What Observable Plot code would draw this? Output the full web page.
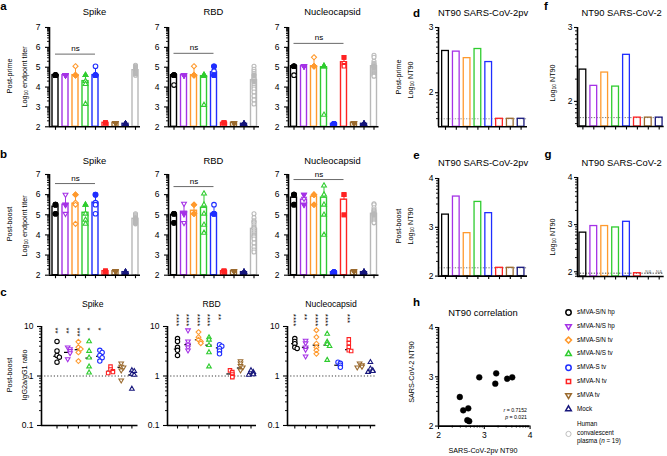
<!DOCTYPE html>
<html>
<head>
<meta charset="utf-8">
<script src="https://cdn.jsdelivr.net/npm/d3@7"></script>
<script src="https://cdn.jsdelivr.net/npm/@observablehq/plot@0.6"></script>
<style>
  html,body{margin:0;padding:0;background:#fff;}
  #fig{position:relative;width:667px;height:456px;overflow:hidden;background:#fff;font-family:"Liberation Sans",Arial,Helvetica,sans-serif;color:#000;}
  #fig svg{overflow:visible;}
  sub{font-size:70%;vertical-align:-0.3em;line-height:0;}
</style>
</head>
<body>
<div id="fig"></div>
<script>
// ================= DATA =================
const groupNames = ["sMVA-S/N hp","sMVA-N/S hp","sMVA-S/N tv","sMVA-N/S tv","sMVA-S tv","sMVA-N tv","sMVA tv","Mock"];
const plasmaName = ["Human","convalescent","plasma (<i>n</i> = 19)"];
const groupColors = ["#000000","#a532e6","#ff9a2e","#2fcc2f","#1f2eff","#ff2222","#9a6a2e","#17177c","#b8b8b8"];

// a: post-prime, Log10 endpoint titer
const primeSpikeBar = [4.6, 4.6, 4.6, 4.3, 4.6, 2.2, 2.2, 2.15, 4.85];
const primeSpikeErr = [null, null, 5.0, 4.6, 5.05, null, null, null, 5.05];
const primeSpikePts = [
  [4.6,4.6,4.6,4.6,4.6],[4.6,4.6,4.6,4.6,4.6],[5.05,4.6,4.6,4.6,4.6],[4.6,4.6,4.3,4.15,3.15],
  [5.05,4.6,4.6,4.6,4.6],[2.2,2.2,2.2,2.2,2.2],[2.2,2.2,2.2,2.2,2.2],[2.15,2.15,2.15,2.15,2.15],
  [5.1,5.05,5.0,5.0,4.95,4.9,4.9,4.85,4.85,4.8,4.8,4.8,4.75,4.75,4.7,4.7,4.7,4.65,4.6]];
const primeRbdBar = [4.6, 4.6, 4.6, 4.55, 4.75, 2.2, 2.2, 2.15, 4.35];
const primeRbdErr = [null, null, 5.0, null, 5.05, null, null, null, 4.65];
const primeRbdPts = [
  [4.6,4.6,4.6,4.6,4.1],[4.6,4.6,4.6,4.6,4.6],[5.05,4.6,4.6,4.6,4.6],[4.6,4.6,4.6,4.55,3.1],
  [5.05,5.05,4.8,4.6,4.6],[2.2,2.2,2.2,2.2,2.2],[2.2,2.2,2.2,2.2,2.2],[2.15,2.15,2.15,2.15,2.15],
  [5.05,4.9,4.8,4.7,4.6,4.6,4.5,4.45,4.4,4.3,4.3,4.2,4.1,4.0,3.9,3.75,3.55,3.35,3.15]];
const primeNucBar = [5.05, 5.05, 5.05, 5.0, 2.15, 5.25, 2.2, 2.15, 5.05];
const primeNucErr = [null, null, 5.5, null, null, 5.5, null, null, 5.2];
const primeNucPts = [
  [5.05,5.05,5.05,5.05,4.6],[5.05,5.05,5.05,5.05,5.05],[5.5,5.05,5.05,5.05,5.05],[5.05,5.05,5.05,5.05,2.6],
  [2.15,2.15,2.15,2.15,2.15],[5.5,5.5,5.2,5.1,5.05],[2.2,2.2,2.2,2.2,2.2],[2.15,2.15,2.15,2.15,2.15],
  [5.6,5.5,5.3,5.2,5.15,5.1,5.05,5.05,5.0,5.0,4.95,4.9,4.85,4.8,4.75,4.7,4.65,4.6,4.55]];
const primeNs = [{from:1,to:5,y:5.66},{from:1,to:5,y:5.7},{from:1,to:6,y:6.2}];

// b: post-boost, Log10 endpoint titer
const boostSpikeBar = [5.4, 5.5, 5.55, 5.1, 5.6, 2.2, 2.2, 2.15, 4.8];
const boostSpikeErr = [5.55, 6.0, 6.0, 5.5, 6.0, null, null, null, 5.05];
const boostSpikePts = [
  [5.5,5.5,5.5,5.05,5.05],[6.0,5.5,5.5,5.5,5.05],[6.0,6.0,5.6,5.5,4.55],[5.5,5.5,5.05,4.75,4.55],
  [6.0,6.0,5.6,5.5,5.05],[2.2,2.2,2.2,2.2,2.2],[2.2,2.2,2.2,2.2,2.2],[2.15,2.15,2.15,2.15,2.15],
  [5.05,5.0,4.95,4.9,4.85,4.85,4.8,4.8,4.8,4.75,4.75,4.7,4.7,4.7,4.65,4.65,4.6,4.6,4.55]];
const boostRbdBar = [5.0, 5.15, 5.2, 5.35, 5.05, 2.2, 2.2, 2.15, 4.3];
const boostRbdErr = [null, 5.55, 5.5, 6.05, 5.5, null, null, null, 4.6];
const boostRbdPts = [
  [5.05,5.05,5.05,4.6,4.6],[5.55,5.05,5.05,5.05,4.6],[5.5,5.5,5.05,5.05,5.05],[6.05,5.5,5.05,4.5,4.1],
  [5.5,5.05,5.05,5.05,5.05],[2.2,2.2,2.2,2.2,2.2],[2.2,2.2,2.2,2.2,2.2],[2.15,2.15,2.15,2.15,2.15],
  [5.05,4.85,4.7,4.65,4.6,4.5,4.4,4.35,4.3,4.2,4.1,4.0,3.95,3.9,3.8,3.6,3.4,3.25,3.15]];
const boostNucBar = [5.85, 5.75, 5.9, 5.85, 2.15, 5.75, 2.2, 2.15, 5.05];
const boostNucErr = [6.0, 6.0, 6.0, 6.45, null, 6.0, null, null, 5.25];
const boostNucPts = [
  [6.0,6.0,6.0,5.5,5.5],[6.0,6.0,5.8,5.5,5.5],[6.0,6.0,6.0,5.5,5.5],[6.45,6.0,5.5,5.0,4.0],
  [2.15,2.15,2.15,2.15,2.15],[6.0,6.0,6.0,5.0,5.0],[2.2,2.2,2.2,2.2,2.2],[2.15,2.15,2.15,2.15,2.15],
  [5.55,5.5,5.35,5.25,5.2,5.15,5.1,5.05,5.05,5.0,5.0,4.95,4.9,4.85,4.8,4.75,4.7,4.65,4.6]];
const boostNs = [{from:1,to:5,y:6.55},{from:1,to:5,y:6.4},{from:1,to:6,y:6.75}];

// c: post-boost IgG2a/IgG1 ratio
const ratioSpikePts = [[5.0,3.2,2.6,2.4,1.9],[3.8,3.5,3.2,2.9,2.2],[4.9,3.8,3.5,3.0,2.0],[5.0,3.2,2.35,1.55,1.17],
  [3.3,3.0,2.6,2.35,2.0],[1.55,1.35,1.25,1.2,1.15],[1.8,1.55,1.5,1.3,0.82],[1.3,1.25,1.1,1.05,0.55]];
const ratioSpikeMed = [2.5, 3.0, 3.4, 2.3, 2.5, 1.25, 1.5, 1.05];
const ratioSpikeStars = [2, 2, 3, 1, 1, 0, 0, 0];
const ratioRbdPts = [[5.7,5.0,3.8,3.3,2.6],[8.4,5.0,4.3,3.8,3.3],[7.7,6.1,5.4,5.0,4.6],[6.0,5.4,4.2,3.0,1.55],
  [4.3,4.0,3.6,3.2,2.8],[1.3,1.2,1.1,1.0,0.95],[2.0,1.8,1.6,1.5,1.3],[1.3,1.2,1.1,1.08,1.05]];
const ratioRbdMed = [3.5, 4.3, 5.4, 4.2, 3.7, 1.1, 1.45, 1.1];
const ratioRbdStars = [4, 4, 4, 4, 2, 0, 0, 0];
const ratioNucPts = [[5.7,5.0,4.5,3.8,3.6],[5.2,4.6,3.8,3.4,2.5],[8.4,6.1,4.5,3.8,3.3,2.8],[7.1,4.9,4.4,4.0,2.1],
  [1.9,1.8,1.65,1.5],[5.5,4.6,3.8,3.3,3.2],[1.8,1.65,1.55,1.5],[1.9,1.4,1.3,1.25,1.2]];
const ratioNucMed = [4.5, 3.8, 4.2, 4.2, 1.65, 3.4, 1.55, 1.2];
const ratioNucStars = [4, 2, 4, 4, 0, 3, 0, 0];

// d-g: Log10 NT90
const ntPvPrime = [2.64, 2.63, 2.53, 2.67, 2.47, 1.6, 1.6, 1.6];
const ntCovPrime = [2.43, 2.21, 2.39, 2.2, 2.63, 1.78, 1.78, 1.78];
const ntPvBoost = [3.26, 3.63, 2.88, 3.52, 3.29, 2.17, 2.17, 2.17];
const ntCovBoost = [2.83, 2.97, 2.97, 2.94, 3.06, 1.97, null, null];
const lodPvPrime = 1.6, lodCovPrime = 1.78, lodPvBoost = 2.17, lodCovBoost = 1.97;

// h: NT90 correlation
const corrPv  = [2.465, 2.54, 2.65, 2.63, 2.67, 2.89, 3.26, 3.24, 3.50, 3.61];
const corrCov = [2.59, 2.32, 2.36, 2.12, 2.10, 2.99, 3.07, 2.86, 2.96, 2.99];
const corrR = "0.7152", corrP = "0.021";

// ================= HELPERS =================
const FONT = '"Liberation Sans", Arial, Helvetica, sans-serif';
const fig = document.getElementById("fig");
const triDown = { draw(ctx, size) { const s = Math.sqrt(size) * 0.6824, t = s / 2, u = s * Math.sqrt(3) / 2;
  ctx.moveTo(0, s); ctx.lineTo(u, -t); ctx.lineTo(-u, -t); ctx.closePath(); } };
const groupSymbols = ["circle", triDown, "diamond2", "triangle2", "circle", "square2", triDown, "triangle2", "circle"];

function put(node, left, top) { node.style.position = "absolute"; node.style.left = left + "px"; node.style.top = top + "px"; fig.appendChild(node); return node; }
function txt(html, x, y, o = {}) {
  const d = document.createElement("div");
  d.innerHTML = html;
  d.style.cssText = `position:absolute;left:${x}px;top:${y}px;font-size:${o.size ?? 8}px;line-height:${o.lh ?? 1.15};white-space:nowrap;font-weight:${o.bold ? "bold" : "normal"};color:${o.color ?? "#000"};text-align:${o.align ?? "center"};`;
  const tx = o.anchor === "start" ? "0" : o.anchor === "end" ? "-100%" : "-50%";
  d.style.transform = `translate(${tx},-50%)` + (o.rot ? ` rotate(${o.rot}deg)` : "");
  fig.appendChild(d);
}
function log10Minor(lo, hi) {
  const t = [];
  for (let n = Math.floor(lo) - 1; n <= Math.ceil(hi); n++)
    for (let k = 2; k <= 9; k++) { const v = n + Math.log10(k); if (v > lo + 1e-6 && v < hi - 1e-6) t.push(v); }
  return t;
}
function logMinor(lo, hi) {
  const t = [];
  for (let n = Math.floor(Math.log10(lo)); n < Math.ceil(Math.log10(hi)); n++)
    for (let k = 2; k <= 9; k++) t.push(k * Math.pow(10, n));
  return t.filter(v => v > lo && v < hi);
}
function axes(xd, yd, majorY, minorY, xTicks, yFmt, o = {}) {
  return [
    Plot.axisY({ticks: minorY, tickSize: 2, tickFormat: () => "", label: null, strokeWidth: 0.9}),
    Plot.axisY({ticks: majorY, tickSize: o.ts ?? 4, tickPadding: o.tp ?? 4, tickFormat: yFmt, label: null, fontSize: o.fs ?? 8.5, strokeWidth: 1.1}),
    Plot.axisX({ticks: xTicks, tickSize: 3.5, tickPadding: o.xtp ?? 2, tickFormat: o.xFmt ?? (() => ""), label: null, fontSize: o.fs ?? 8.5, strokeWidth: 1.1}),
    Plot.ruleX([xd[0]], {y1: yd[0], y2: yd[1], stroke: "#000", strokeWidth: 1.6}),
    Plot.ruleY([yd[0]], {x1: xd[0], x2: xd[1], stroke: "#000", strokeWidth: 1.6})
  ];
}
function plotAt(g, opts, marks, mL = 26, mR = 4, mT = 16, mB = 14) {
  const width = g.endX - g.axisX + mL + mR, height = g.yBot - g.yTop + mT + mB;
  const svg = Plot.plot(Object.assign({
    width, height, marginLeft: mL, marginRight: mR, marginTop: mT, marginBottom: mB,
    style: {fontFamily: FONT, fontSize: "8.5px", background: "none", overflow: "visible"},
    color: {type: "identity"}, marks
  }, opts));
  put(svg, g.axisX - mL, g.yTop - mT);
}
function xDomain(g, n) { return [1 - (g.c0 - g.axisX) / g.step, n + (g.endX - (g.c0 + (n - 1) * g.step)) / g.step]; }
function dotPair(data, k, r, base) {
  const o = {x: "x", y: "v", symbol: groupSymbols[k], stroke: groupColors[k], strokeWidth: 1.1, r, ...base};
  return [Plot.dot(data.filter(d => !d.filled), {...o, fill: "white"}), Plot.dot(data.filter(d => d.filled), {...o, fill: groupColors[k]})];
}

// a/b titer panel
function titerPanel(bars, errs, pts, ns, g) {
  const n = bars.length, xd = xDomain(g, n), yd = [2, 7];
  const barData = bars.map((v, k) => ({i: k + 1, v, e: errs[k], c: groupColors[k]}));
  const errData = barData.filter(d => d.e != null);
  const marks = [
    Plot.rect(barData, {x1: d => d.i - 0.3, x2: d => d.i + 0.3, y1: yd[0], y2: "v", fill: "white", stroke: "c", strokeWidth: 1.4}),
    Plot.ruleX(errData, {x: "i", y1: "v", y2: "e", stroke: "c", strokeWidth: 1}),
    Plot.ruleY(errData, {y: "e", x1: d => d.i - 0.14, x2: d => d.i + 0.14, stroke: "c", strokeWidth: 1})
  ];
  pts.forEach((arr, k) => {
    const counts = d3.rollup(arr, v => v.length, v => v);
    const data = arr.map(v => ({x: k + 1, v, filled: counts.get(v) > 1}));
    marks.push(...dotPair(data, k, k === 8 ? 2 : 2.3, {}));
  });
  marks.push(Plot.ruleY([ns.y], {x1: ns.from, x2: ns.to, stroke: "#444", strokeWidth: 0.8}));
  marks.push(Plot.text(["ns"], {x: (ns.from + ns.to) / 2, y: ns.y, dy: -5.5, fontSize: 8}));
  marks.push(...axes(xd, yd, [2, 3, 4, 5, 6, 7], log10Minor(2, 7), d3.range(1, n + 1), d => d, {tp: 5}));
  plotAt(g, {x: {domain: xd}, y: {domain: yd}}, marks);
}

// c ratio panel
function ratioPanel(pts, meds, stars, starTop, g) {
  const n = pts.length, xd = xDomain(g, n), yd = [0.1, 10];
  const marks = [
    Plot.ruleY([1], {x1: xd[0], x2: xd[1], stroke: "#222", strokeWidth: 0.9, strokeDasharray: "1.2,2"}),
    Plot.ruleY(meds.map((m, k) => ({i: k + 1, m})), {y: "m", x1: d => d.i - 0.3, x2: d => d.i + 0.3, stroke: "#000", strokeWidth: 1.2})
  ];
  pts.forEach((arr, k) => {
    const placed = [];
    const data = arr.map(v => {
      const lv = Math.log10(v);
      const near = placed.filter(p => Math.abs(p - lv) < 0.045).length;
      placed.push(lv);
      const off = near === 0 ? 0 : (near % 2 ? 1 : -1) * Math.ceil(near / 2) * 0.22;
      return {x: k + 1 + off, v, filled: false};
    });
    marks.push(...dotPair(data, k, 2.2, {}));
  });
  // significance stars: one vertical string per group
  const sd = stars.map((s, k) => ({i: k + 1, s})).filter(d => d.s > 0);
  marks.push(Plot.text(sd, {x: "i", y: starTop, text: d => "*".repeat(d.s), rotate: 90, textAnchor: "start",
    fontSize: 8, dx: -1.3, lineAnchor: "middle", style: "letter-spacing:1.2px"}));
  marks.push(...axes(xd, yd, [0.1, 1, 10], logMinor(0.1, 10), d3.range(1, n + 1), d => String(d), {tp: 4}));
  plotAt(g, {x: {domain: xd}, y: {type: "log", domain: yd}}, marks, 30, 4, 24, 12);
}

// d-g NT90 bar panel
function ntPanel(vals, lod, lodColor, g) {
  const n = vals.length, xd = xDomain(g, n), yd = g.yd;
  const barData = vals.map((v, k) => ({i: k + 1, v, c: groupColors[k]}));
  const marks = [
    Plot.ruleY([lod], {x1: xd[0], x2: xd[1], stroke: lodColor, strokeWidth: 0.9, strokeDasharray: "1.3,1.5"}),
    Plot.rect(barData.filter(d => d.v != null), {x1: d => d.i - 0.31, x2: d => d.i + 0.31, y1: yd[0], y2: "v", fill: "none", stroke: "c", strokeWidth: 1.3}),
    Plot.text(barData.filter(d => d.v == null), {x: "i", y: lod, text: () => "NA", fontSize: 4.5, fill: "#666", dy: -0.5})
  ];
  const major = d3.range(Math.ceil(yd[0]), Math.floor(yd[1]) + 1);
  marks.push(...axes(xd, yd, major, log10Minor(yd[0], yd[1]), d3.range(1, n + 1), d => d, {ts: 3, tp: 2}));
  plotAt(g, {x: {domain: xd}, y: {domain: yd}}, marks, 20, 4, 10, 10);
}

// ================= PANELS =================
const rowA = {yTop: 26.7, yBot: 126}, rowB = {yTop: 174.3, yBot: 275}, rowC = {yTop: 326, yBot: 425};
const colSpike = {axisX: 49, c0: 55, step: 10, endX: 140};
const colRbd = {axisX: 168, c0: 173.5, step: 10, endX: 259};
const colNuc = {axisX: 287.5, c0: 293, step: 10, endX: 378};

titerPanel(primeSpikeBar, primeSpikeErr, primeSpikePts, primeNs[0], {...colSpike, ...rowA});
titerPanel(primeRbdBar, primeRbdErr, primeRbdPts, primeNs[1], {...colRbd, ...rowA});
titerPanel(primeNucBar, primeNucErr, primeNucPts, primeNs[2], {...colNuc, ...rowA});
titerPanel(boostSpikeBar, boostSpikeErr, boostSpikePts, boostNs[0], {...colSpike, ...rowB});
titerPanel(boostRbdBar, boostRbdErr, boostRbdPts, boostNs[1], {...colRbd, ...rowB});
titerPanel(boostNucBar, boostNucErr, boostNucPts, boostNs[2], {...colNuc, ...rowB});

ratioPanel(ratioSpikePts, ratioSpikeMed, ratioSpikeStars, 9.6, {axisX: 40.5, c0: 56, step: 10.7, endX: 137, ...rowC});
ratioPanel(ratioRbdPts, ratioRbdMed, ratioRbdStars, 18, {axisX: 167, c0: 177, step: 10.5, endX: 256, ...rowC});
ratioPanel(ratioNucPts, ratioNucMed, ratioNucStars, 18, {axisX: 286.7, c0: 294, step: 10.8, endX: 375, ...rowC});

ntPanel(ntPvPrime, lodPvPrime, "#888", {axisX: 438, c0: 445, step: 10.8, endX: 527, yTop: 26.7, yBot: 126, yd: [Math.log10(30), 3]});
ntPanel(ntPvBoost, lodPvBoost, "#666", {axisX: 438, c0: 445, step: 10.8, endX: 527, yTop: 177.7, yBot: 275.3, yd: [2, 4]});
ntPanel(ntCovPrime, lodCovPrime, "#666", {axisX: 577.3, c0: 582.7, step: 10.9, endX: 664, yTop: 27, yBot: 126, yd: [1.66, 3]});
ntPanel(ntCovBoost, lodCovBoost, "#333", {axisX: 577.3, c0: 582.7, step: 10.9, endX: 664, yTop: 176.7, yBot: 275.7, yd: [1.9, 4]});

// h scatter
{
  const g = {axisX: 437.7, endX: 529.3, yTop: 326.7, yBot: 425.3};
  const xd = [2, 4], yd = [2, 4];
  const data = corrPv.map((x, k) => ({x, y: corrCov[k]}));
  const marks = [
    Plot.dot(data, {x: "x", y: "y", r: 2.9, fill: "#000", stroke: "#000", strokeWidth: 0.5}),
    ...axes(xd, yd, [2, 3, 4], log10Minor(2, 4), [2, 3, 4], d => d, {ts: 3, tp: 2, xtp: 2.5, xFmt: d => d})
  ];
  marks.splice(marks.length - 3, 1,
    Plot.axisX({ticks: log10Minor(2, 4), tickSize: 2, tickFormat: () => "", label: null, strokeWidth: 0.9}),
    Plot.axisX({ticks: [2, 3, 4], tickSize: 3.5, tickPadding: 2.5, tickFormat: d => d, label: null, fontSize: 8.5, strokeWidth: 1.1}));
  plotAt(g, {x: {domain: xd}, y: {domain: yd}}, marks, 20, 6, 8, 16);
}

// legend markers
{
  const legTop = 312, legStep = 13.8;
  const items = groupColors.map((c, k) => ({k, pos: k < 8 ? k : 8.8}));
  const marks = items.map(d => Plot.dot([d], {x: 0, y: "pos", symbol: groupSymbols[d.k], stroke: groupColors[d.k], fill: "white", strokeWidth: d.k === 8 ? 0.9 : 1.5, r: d.k === 8 ? 2.6 : 2.7}));
  const svg = Plot.plot({width: 16, height: 140, margin: 0,
    x: {domain: [-1, 1], range: [0, 16], axis: null},
    y: {domain: [0, 8.8], range: [10, 10 + 8.8 * legStep], axis: null}, marks});
  put(svg, 560.3, legTop - 10);
  groupNames.forEach((nm, k) => txt(nm, 577, legTop + k * legStep, {size: 6.3, anchor: "start"}));
  txt(plasmaName.join("<br>"), 577, legTop + 8.8 * legStep, {size: 6.3, anchor: "start", align: "left", lh: 1.33});
}

// ================= TEXT =================
const T = 9.4;
[["Spike", 94.5], ["RBD", 213.5], ["Nucleocapsid", 332.5]].forEach(([t, x]) => { txt(t, x, 12, {size: T}); txt(t, x, 160.7, {size: T}); });
[["Spike", 92.7], ["RBD", 211.7], ["Nucleocapsid", 331]].forEach(([t, x]) => txt(t, x, 305, {size: 8.6}));
txt("NT90 SARS-CoV-2pv", 483, 13.3, {size: T}); txt("NT90 SARS-CoV-2pv", 483, 162.7, {size: T});
txt("NT90 SARS-CoV-2", 621.7, 13.3, {size: T}); txt("NT90 SARS-CoV-2", 621.7, 162.7, {size: T});
txt("NT90 correlation", 483, 313, {size: T});

[["a", 3.5, 7], ["b", 3.5, 155], ["c", 3.5, 293], ["d", 416.5, 14], ["e", 416.5, 156], ["f", 546, 7], ["g", 548, 155], ["h", 416.5, 303]]
  .forEach(([t, x, y]) => txt(t, x, y, {size: 11.5, bold: true}));

const L = 7.2;
txt("Post-prime", 10, 76, {size: L, rot: -90});
txt("Log<sub>10</sub> endpoint titer", 24.5, 77, {size: L, rot: -90});
txt("Post-boost", 10, 224, {size: L, rot: -90});
txt("Log<sub>10</sub> endpoint titer", 24.5, 226, {size: L, rot: -90});
txt("Post-boost", 10, 375, {size: L, rot: -90});
txt("IgG2a/gG1 ratio", 24.5, 375, {size: L, rot: -90});
txt("Post-prime", 399, 77, {size: L, rot: -90});
txt("Log<sub>10</sub> NT90", 411, 80, {size: L, rot: -90});
txt("Post-boost", 399, 226, {size: L, rot: -90});
txt("Log<sub>10</sub> NT90", 411, 226, {size: L, rot: -90});
txt("Log<sub>10</sub> NT90", 553, 83, {size: L, rot: -90});
txt("Log<sub>10</sub> NT90", 553, 237, {size: L, rot: -90});
txt("SARS-CoV-2 NT90", 412, 372, {size: L, rot: -90});
txt("SARS-CoV-2pv NT90", 483, 451, {size: L});
txt(`<i>r</i> = ${corrR}`, 527, 411, {size: 5.2, anchor: "end"});
txt(`<i>p</i> = ${corrP}`, 527, 418, {size: 5.2, anchor: "end"});
</script>
</body>
</html>
